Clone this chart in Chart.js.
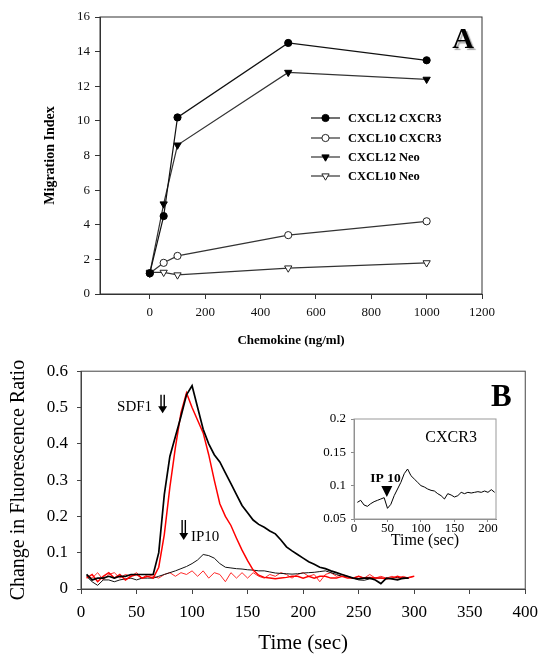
<!DOCTYPE html>
<html>
<head>
<meta charset="utf-8">
<script src="https://cdn.jsdelivr.net/npm/chart.js@4.4.1/dist/chart.umd.min.js"></script>
<style>
body{margin:0;background:#fff;}
#wrap{position:relative;width:546px;height:656px;overflow:hidden;}
canvas{position:absolute;}
</style>
</head>
<body>
<div id="wrap">
<canvas id="chartA" width="546" height="352" style="left:0px;top:0px"></canvas>
<canvas id="chartB" width="546" height="304" style="left:0px;top:352px"></canvas>
<canvas id="chartIn" width="185" height="145" style="left:320px;top:405px"></canvas>
</div>
<script>
const SERIF = '"Liberation Serif", "Times New Roman", serif';

// ---- panel A : migration index vs chemokine dose
const doseA = [0, 50, 100, 500, 1000];
const cxcl12Cxcr3 = [1.2, 4.5, 10.2, 14.5, 13.5];
const cxcl10Cxcr3 = [1.2, 1.8, 2.2, 3.4, 4.2];
const cxcl12Neo = [1.2, 5.2, 8.6, 12.8, 12.4];
const cxcl10Neo = [1.25, 1.25, 1.1, 1.5, 1.8];
const namesA = ['CXCL12 CXCR3', 'CXCL10 CXCR3', 'CXCL12 Neo', 'CXCL10 Neo'];
const xTicksA = [0, 200, 400, 600, 800, 1000, 1200];

// ---- panel B : fluorescence ratio traces
const timeB = [5,10,15,20,25,30,35,40,45,50,55,60,65,70,75,80,85,90,95,100,
  105,110,115,120,125,130,135,140,145,150,155,160,165,170,175,180,185,190,195,200,
  205,210,215,220,225,230,235,240,245,250,255,260,265,270,275,280,285,290,295,300];
const sdf1Black = [.04,.025,.03,.03,.035,.03,.035,.035,.04,.04,.04,.04,.04,.10,.26,.365,.42,.475,.535,.56,
  .50,.44,.40,.37,.35,.32,.29,.26,.23,.21,.19,.178,.17,.16,.152,.135,.116,.105,.095,.085,
  .075,.068,.06,.056,.05,.045,.04,.035,.03,.028,.03,.03,.025,.015,.03,.028,.025,.03,.03,null];
const sdf1Red = [.03,.04,.02,.035,.045,.03,.04,.025,.035,.04,.03,.035,.03,.06,.15,.28,.39,.485,.54,.50,
  .465,.43,.37,.30,.235,.20,.175,.14,.107,.078,.052,.038,.032,.03,.028,.03,.032,.035,.035,.03,
  .035,.03,.035,.035,.03,.03,.035,.03,.03,.035,.03,.032,.03,.03,.028,.03,.035,.03,.032,.035];
const ip10Black = [.035,.02,.01,.025,.025,.02,.025,.028,.03,.025,.03,.03,.03,.035,.04,.045,.05,.056,.062,.07,
  .08,.095,.092,.085,.07,.06,.058,.056,.055,.053,.052,.05,.05,.047,.044,.043,.042,.041,.042,.044,
  .045,.046,.048,.05,.045,.04,.035,.033,.03,.025,.024,.028,.03,.03,.028,.03,.032,.028,.03,null];
const ip10Red = [.035,.03,.045,.025,.04,.045,.03,.04,.035,.045,.03,.04,.035,.03,.04,.045,.035,.045,.04,.05,
  .035,.05,.03,.045,.04,.02,.045,.03,.045,.03,.045,.035,.03,.04,.035,.045,.04,.03,.04,.045,
  .035,.04,.02,.04,.045,.035,.04,.035,.03,.035,.03,.04,.03,.035,.03,.035,.03,.035,.03,.035];

// ---- inset : CXCR3 response to IP10
const timeIn = [5,10,15,20,25,30,35,40,45,50,55,60,65,70,75,80,85,90,95,100,105,
  110,115,120,125,130,135,140,145,150,155,160,165,170,175,180,185,190,195,200,205,210];
const cxcr3In = [.075,.078,.071,.069,.073,.076,.078,.08,.082,.066,.072,.085,.095,.105,.118,.125,.115,.11,.105,.10,.098,
  .095,.093,.092,.088,.085,.08,.088,.086,.083,.085,.09,.088,.09,.089,.09,.091,.09,.092,.09,.094,.09];

const pts = (xs, ys) => xs.map((x, i) => ({x: x, y: ys[i]}));
const fmt = v => String(Math.round(v * 100) / 100);

function framePlugin(color) {
  return {
    id: 'frame',
    afterDraw(chart) {
      const a = chart.chartArea, c = chart.ctx;
      c.save();
      c.strokeStyle = color;
      c.lineWidth = 1;
      c.strokeRect(a.left, a.top, a.right - a.left, a.bottom - a.top);
      c.restore();
    }
  };
}

function downArrow(ctx, x, yTop, yBot) {
  ctx.save();
  ctx.strokeStyle = '#000';
  ctx.fillStyle = '#000';
  ctx.lineWidth = 1.4;
  ctx.beginPath();
  ctx.moveTo(x - 1.6, yTop); ctx.lineTo(x - 1.6, yBot - 6);
  ctx.moveTo(x + 1.6, yTop); ctx.lineTo(x + 1.6, yBot - 6);
  ctx.stroke();
  ctx.beginPath();
  ctx.moveTo(x - 4.5, yBot - 7); ctx.lineTo(x + 4.5, yBot - 7); ctx.lineTo(x, yBot);
  ctx.closePath();
  ctx.fill();
  ctx.restore();
}

// ---------------- chart A
const dsA = [
  {label: namesA[0], data: pts(doseA, cxcl12Cxcr3), borderColor: '#111', pointStyle: 'circle', pointRadius: 3.6, pointBackgroundColor: '#000', pointBorderColor: '#000', pointRotation: 0},
  {label: namesA[1], data: pts(doseA, cxcl10Cxcr3), borderColor: '#333', pointStyle: 'circle', pointRadius: 3.6, pointBackgroundColor: '#fff', pointBorderColor: '#222', pointRotation: 0},
  {label: namesA[2], data: pts(doseA, cxcl12Neo), borderColor: '#333', pointStyle: 'triangle', pointRadius: 4.2, pointBackgroundColor: '#000', pointBorderColor: '#000', pointRotation: 180},
  {label: namesA[3], data: pts(doseA, cxcl10Neo), borderColor: '#333', pointStyle: 'triangle', pointRadius: 4.2, pointBackgroundColor: '#fff', pointBorderColor: '#222', pointRotation: 180}
];
dsA.forEach(d => { d.borderWidth = 1.2; d.pointBorderWidth = 1; d.tension = 0; });

const legendA = {
  id: 'legendA',
  afterDraw(chart) {
    const ctx = chart.ctx;
    const rows = [118, 138, 157, 176];
    ctx.save();
    chart.data.datasets.forEach((d, i) => {
      const y = rows[i];
      ctx.strokeStyle = d.borderColor;
      ctx.lineWidth = 1.2;
      ctx.beginPath(); ctx.moveTo(311, y); ctx.lineTo(340, y); ctx.stroke();
      ctx.fillStyle = d.pointBackgroundColor;
      ctx.strokeStyle = d.pointBorderColor;
      ctx.lineWidth = 1;
      Chart.helpers.drawPoint(ctx, {pointStyle: d.pointStyle, radius: d.pointRadius, rotation: d.pointRotation, borderWidth: 1}, 325.5, y);
      ctx.fillStyle = '#000';
      ctx.font = 'bold 12.5px ' + SERIF;
      ctx.textAlign = 'left';
      ctx.textBaseline = 'middle';
      ctx.fillText(d.label, 348, y + 0.5);
    });
    const x = chart.scales.x, yS = chart.scales.y;
    ctx.font = 'bold 30px ' + SERIF;
    ctx.textAlign = 'center';
    ctx.shadowColor = 'rgba(0,0,0,0.35)';
    ctx.shadowOffsetX = 2; ctx.shadowOffsetY = 2; ctx.shadowBlur = 1;
    ctx.fillText('A', x.getPixelForValue(1132), yS.getPixelForValue(14.65));
    ctx.restore();
  }
};

new Chart(document.getElementById('chartA'), {
  type: 'line',
  data: {datasets: dsA},
  options: {
    responsive: false, animation: false, events: [],
    layout: {padding: {top: 17, right: 64, left: 0, bottom: 0}},
    plugins: {legend: {display: false}, tooltip: {enabled: false}},
    scales: {
      x: {
        type: 'linear', min: -180, max: 1200,
        afterBuildTicks: s => { s.ticks = xTicksA.map(v => ({value: v})); },
        afterFit: s => { s.height = 58; },
        grid: {drawOnChartArea: false, tickLength: 5, color: '#333'},
        border: {display: true, color: '#333'},
        ticks: {callback: v => String(v), color: '#111', font: {family: SERIF, size: 13}, padding: 6, maxRotation: 0},
        title: {display: true, text: 'Chemokine (ng/ml)', color: '#000', font: {family: SERIF, size: 13, weight: 'bold'}, padding: {top: 0, bottom: 4}}
      },
      y: {
        min: 0, max: 16,
        ticks: {stepSize: 2, color: '#111', font: {family: SERIF, size: 13}, padding: 5},
        afterFit: s => { s.width = 100; },
        grid: {drawOnChartArea: false, tickLength: 5, color: '#333'},
        border: {display: true, color: '#333'},
        title: {display: true, text: 'Migration Index', color: '#000', font: {family: SERIF, size: 14, weight: 'bold'}, padding: {top: 42, bottom: 0}}
      }
    }
  },
  plugins: [framePlugin('#333'), legendA]
});

// ---------------- chart B
const dsB = [
  {data: pts(timeB, sdf1Black), borderColor: '#000', borderWidth: 1.7},
  {data: pts(timeB, sdf1Red), borderColor: '#ff0000', borderWidth: 1.5},
  {data: pts(timeB, ip10Black), borderColor: '#111', borderWidth: 1},
  {data: pts(timeB, ip10Red), borderColor: '#ff2a2a', borderWidth: 1}
];
dsB.forEach(d => { d.pointRadius = 0; d.tension = 0; d.spanGaps = false; });

const notesB = {
  id: 'notesB',
  afterDatasetsDraw(chart) {
    const ctx = chart.ctx, x = chart.scales.x, y = chart.scales.y;
    ctx.save();
    ctx.fillStyle = '#000';
    ctx.textBaseline = 'middle';
    ctx.font = '15px ' + SERIF;
    ctx.textAlign = 'right';
    ctx.fillText('SDF1', x.getPixelForValue(64), y.getPixelForValue(0.5));
    ctx.textAlign = 'left';
    ctx.fillText('IP10', x.getPixelForValue(99), y.getPixelForValue(0.143));
    downArrow(ctx, x.getPixelForValue(73.5), y.getPixelForValue(0.535), y.getPixelForValue(0.484));
    downArrow(ctx, x.getPixelForValue(92.5), y.getPixelForValue(0.19), y.getPixelForValue(0.135));
    ctx.font = 'bold 31px ' + SERIF;
    ctx.textAlign = 'center';
    ctx.fillText('B', x.getPixelForValue(378.5), y.getPixelForValue(0.527));
    ctx.restore();
  }
};

new Chart(document.getElementById('chartB'), {
  type: 'line',
  data: {datasets: dsB},
  options: {
    responsive: false, animation: false, events: [],
    layout: {padding: {top: 11, right: 15, left: 0, bottom: 0}},
    plugins: {legend: {display: false}, tooltip: {enabled: false}},
    scales: {
      x: {
        type: 'linear', min: 0, max: 400,
        ticks: {stepSize: 50, color: '#000', font: {family: SERIF, size: 17}, padding: 8, maxRotation: 0},
        afterFit: s => { s.height = 67; },
        grid: {drawOnChartArea: false, tickLength: 5, color: '#444'},
        border: {display: true, color: '#444'},
        title: {display: true, text: 'Time (sec)', color: '#000', font: {family: SERIF, size: 21}, padding: {top: 0, bottom: 0}}
      },
      y: {
        min: 0, max: 0.6,
        ticks: {stepSize: 0.1, callback: v => fmt(v), color: '#000', font: {family: SERIF, size: 17}, padding: 9},
        afterFit: s => { s.width = 81; },
        grid: {drawOnChartArea: false, tickLength: 4, color: '#444'},
        border: {display: true, color: '#444'},
        title: {display: true, text: 'Change in Fluorescence Ratio', color: '#000', font: {family: SERIF, size: 20}, padding: {top: 7, bottom: 0}}
      }
    }
  },
  plugins: [framePlugin('#444'), notesB]
});

// ---------------- inset
const xTicksIn = [0, 50, 100, 150, 200];
const notesIn = {
  id: 'notesIn',
  afterDatasetsDraw(chart) {
    const ctx = chart.ctx, x = chart.scales.x, y = chart.scales.y;
    ctx.save();
    ctx.fillStyle = '#000';
    ctx.textBaseline = 'middle';
    ctx.textAlign = 'center';
    ctx.font = '16px ' + SERIF;
    ctx.fillText('CXCR3', x.getPixelForValue(145), y.getPixelForValue(0.1715));
    ctx.font = 'bold 13.5px ' + SERIF;
    ctx.fillText('IP 10', x.getPixelForValue(47), y.getPixelForValue(0.1105));
    const cx = x.getPixelForValue(49), t = y.getPixelForValue(0.0995), b = y.getPixelForValue(0.083);
    ctx.beginPath();
    ctx.moveTo(cx - 5.5, t); ctx.lineTo(cx + 5.5, t); ctx.lineTo(cx, b);
    ctx.closePath();
    ctx.fill();
    ctx.restore();
  }
};

new Chart(document.getElementById('chartIn'), {
  type: 'line',
  data: {datasets: [{data: pts(timeIn, cxcr3In), borderColor: '#000', borderWidth: 1, pointRadius: 0, tension: 0}]},
  options: {
    responsive: false, animation: false, events: [],
    layout: {padding: {top: 14, right: 9, left: 0, bottom: 0}},
    plugins: {legend: {display: false}, tooltip: {enabled: false}},
    scales: {
      x: {
        type: 'linear', min: 0, max: 212,
        afterBuildTicks: s => { s.ticks = xTicksIn.map(v => ({value: v})); },
        afterFit: s => { s.height = 31; },
        ticks: {callback: v => String(v), color: '#000', font: {family: SERIF, size: 13, lineHeight: 1}, padding: 0, maxRotation: 0},
        grid: {drawOnChartArea: false, tickLength: 3, color: '#888'},
        border: {display: true, color: '#888'},
        title: {display: true, text: 'Time (sec)', color: '#000', font: {family: SERIF, size: 16}, padding: {top: 0, bottom: 0}}
      },
      y: {
        min: 0.05, max: 0.2,
        ticks: {stepSize: 0.05, callback: v => fmt(v), color: '#000', font: {family: SERIF, size: 13}, padding: 5},
        afterFit: s => { s.width = 34; },
        grid: {drawOnChartArea: false, tickLength: 3, color: '#888'},
        border: {display: true, color: '#888'}
      }
    }
  },
  plugins: [framePlugin('#999'), notesIn]
});
</script>
</body>
</html>
